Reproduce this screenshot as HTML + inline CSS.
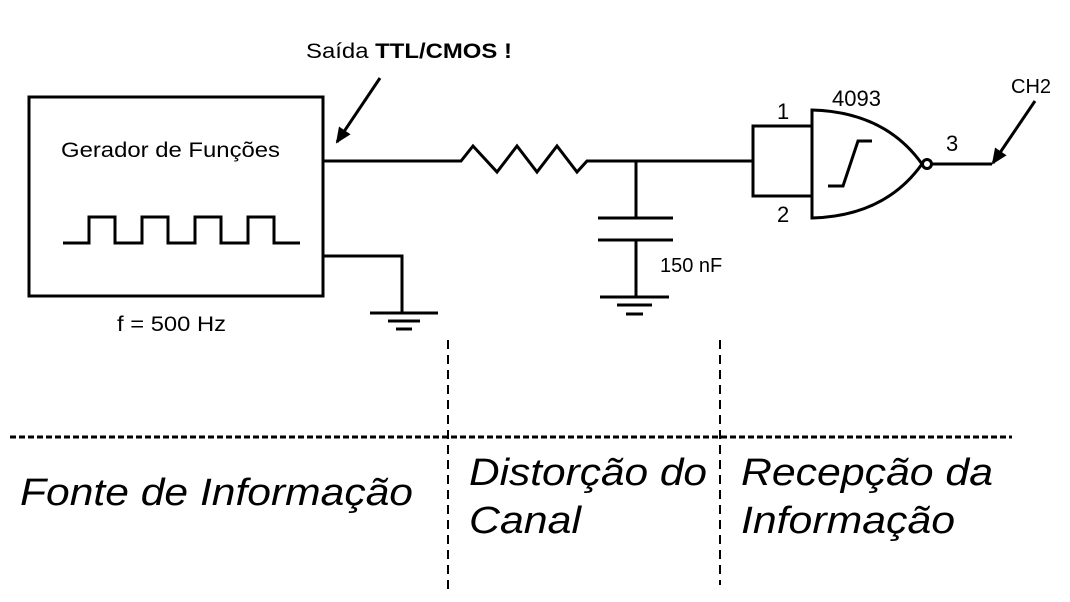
<!DOCTYPE html>
<html><head><meta charset="utf-8"><style>html,body{margin:0;padding:0;background:#fff}svg{display:block}</style></head>
<body>
<svg width="1070" height="602" viewBox="0 0 1070 602" xmlns="http://www.w3.org/2000/svg" font-family="Liberation Sans, sans-serif">
<defs><marker id="ah" markerWidth="16" markerHeight="14" refX="14" refY="7" orient="auto" markerUnits="userSpaceOnUse"><path d="M0,0 L16,7 L0,14 Z" fill="#000"/></marker></defs>
<g stroke="#000" stroke-width="3" fill="none">
<rect x="29" y="97" width="294" height="199"/>
<polyline points="63,243 89,243 89,217 115,217 115,243 142,243 142,217 168,217 168,243 195,243 195,217 221,217 221,243 248,243 248,217 274,217 274,243 300,243"/>
<polyline points="323,161 461,161 473,146 497,172 517,146 537,172 557,146 577,172 587,161 753,161"/>
<polyline points="323,256 402,256 402,313"/>
<line x1="370" y1="313" x2="438" y2="313"/><line x1="388" y1="321" x2="420" y2="321"/><line x1="396" y1="329" x2="412" y2="329"/>
<line x1="636" y1="161" x2="636" y2="218"/><line x1="598" y1="218" x2="673" y2="218"/><line x1="598" y1="240" x2="673" y2="240"/>
<line x1="636" y1="240" x2="636" y2="297"/>
<line x1="600" y1="297" x2="669" y2="297"/><line x1="617" y1="305" x2="652" y2="305"/><line x1="626" y1="314" x2="643" y2="314"/>
<polyline points="812,126 753,126 753,196 812,196"/>
<path d="M812,110 Q885,112 922,164 Q885,216 812,218 Z"/>
<circle cx="927" cy="164" r="4.5"/>
<line x1="932" y1="164" x2="992" y2="164"/>
<polyline points="828,186 843,186 858,141 872,141"/>
<line x1="380" y1="78" x2="337" y2="142" marker-end="url(#ah)"/>
<line x1="1035" y1="101" x2="993" y2="163" marker-end="url(#ah)"/>
</g>
<g stroke="#000" stroke-width="3" stroke-dasharray="6,3" fill="none">
<line x1="10" y1="437" x2="1012" y2="437"/>
</g>
<g stroke="#000" stroke-width="2" stroke-dasharray="9,6" fill="none">
<line x1="448" y1="340" x2="448" y2="595"/>
<line x1="720" y1="340" x2="720" y2="585"/>
</g>
<g fill="#000">
<text x="306" y="58" font-size="21" textLength="206" lengthAdjust="spacingAndGlyphs">Saída <tspan font-weight="bold">TTL/CMOS !</tspan></text>
<text x="61" y="157" font-size="21" textLength="219" lengthAdjust="spacingAndGlyphs">Gerador de Funções</text>
<text x="117" y="331" font-size="21" textLength="109" lengthAdjust="spacingAndGlyphs">f = 500 Hz</text>
<text x="660" y="272" font-size="20">150 nF</text>
<text x="777" y="119" font-size="22">1</text>
<text x="777" y="222" font-size="22">2</text>
<text x="832" y="106" font-size="22">4093</text>
<text x="946" y="151" font-size="22">3</text>
<text x="1011" y="93" font-size="20">CH2</text>
<g font-size="38" font-style="italic">
<text x="20" y="505" textLength="393" lengthAdjust="spacingAndGlyphs">Fonte de Informação</text>
<text x="469" y="485" textLength="238" lengthAdjust="spacingAndGlyphs">Distorção do</text>
<text x="469" y="533" textLength="112" lengthAdjust="spacingAndGlyphs">Canal</text>
<text x="741" y="485" textLength="252" lengthAdjust="spacingAndGlyphs">Recepção da</text>
<text x="741" y="533" textLength="214" lengthAdjust="spacingAndGlyphs">Informação</text>
</g>
</g>
</svg>
</body></html>
